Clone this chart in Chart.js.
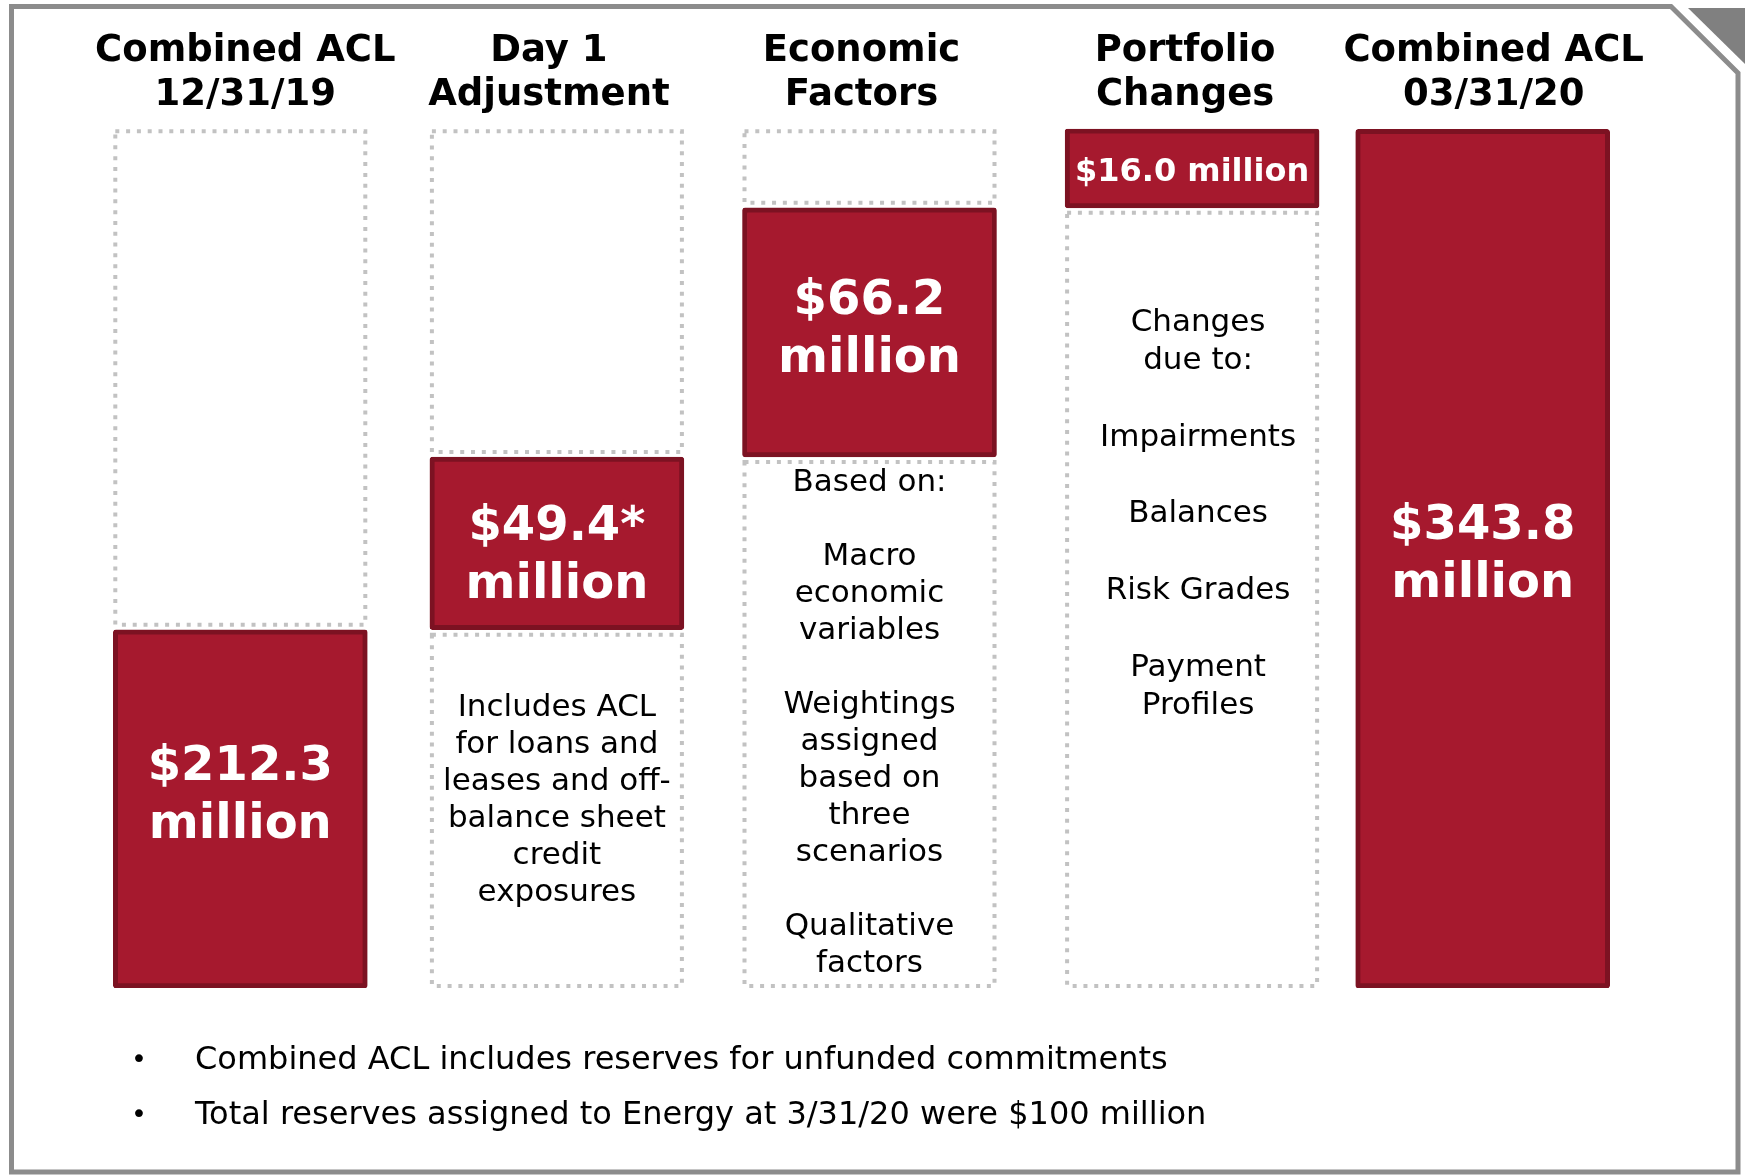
<!DOCTYPE html>
<html>
<head>
<meta charset="utf-8">
<title>Combined ACL walk</title>
<script src="https://cdn.jsdelivr.net/npm/chart.js@4.4.1/dist/chart.umd.min.js"></script>
<style>
html, body { margin: 0; padding: 0; background: #fff; }
#wrap { position: relative; width: 1745px; height: 1175px; overflow: hidden; }
#aclChart { position: absolute; left: 0; top: 0; }
.notes {
    position: absolute; left: 0; top: 1031px; margin: 0; padding: 0; list-style: none;
    font-family: "DejaVu Sans", Verdana, sans-serif; font-size: 32px; color: #000;
}
.notes li { position: relative; padding-left: 195px; height: 55px; line-height: 55px; white-space: nowrap; }
.notes li::before { content: "\2022"; position: absolute; left: 131px; font-size: 27px; }
</style>
</head>
<body>
<div id="wrap">
    <canvas id="aclChart" width="1745" height="1175"></canvas>
    <ul class="notes" id="notes"></ul>
</div>

<script>

/* =========================
   DATA  ($ millions)
========================= */

const categories = [
    ["Combined ACL", "12/31/19"],
    ["Day 1", "Adjustment"],
    ["Economic", "Factors"],
    ["Portfolio", "Changes"],
    ["Combined ACL", "03/31/20"]
];

const stepAmounts = [212.3, 49.4, 66.2, 16.0];
const endingTotal = 343.8;
const amountMarks = ["", "*", "", "", ""];

const columnNotes = [
    [],
    ["Includes ACL", "for loans and", "leases and off-", "balance sheet", "credit", "exposures"],
    ["Based on:", "", "Macro", "economic", "variables", "", "Weightings", "assigned",
     "based on", "three", "scenarios", "", "Qualitative", "factors"],
    ["Changes", "due to:", "", "Impairments", "", "Balances", "", "Risk Grades", "",
     "Payment", "Profiles"],
    []
];

const footnotes = [
    "Combined ACL includes reserves for unfunded commitments",
    "Total reserves assigned to Energy at 3/31/20 were $100 million"
];

/* =========================
   WATERFALL SERIES
========================= */

const amounts = stepAmounts.concat([endingTotal]);

const levels = [0];
stepAmounts.forEach(v => {
    levels.push(+(levels[levels.length - 1] + v).toFixed(1));
});

const redBars = stepAmounts
    .map((v, i) => [levels[i], levels[i + 1]])
    .concat([[0, endingTotal]]);

const upperEmpty = stepAmounts
    .map((v, i) => [levels[i + 1], endingTotal])
    .concat([null]);

const lowerEmpty = stepAmounts
    .map((v, i) => i === 0 ? null : [0, levels[i]])
    .concat([null]);

/* =========================
   LAYOUT / STYLE
========================= */

// the slide is not drawn to scale: where each running level sits (0 = bottom, 1 = top)
const levelFractions = [0, 0.417, 0.618, 0.908, 1];

// columns on the slide are not evenly spaced (px nudge from the even grid)
const columnNudge = [0, 6, 8, 20, 0];
const titleNudge = [5, -8, -8, -7, 11];

const labelNudge = [-12, 13, -2, 4, -3];

const noteGap = [0, 78, 26, 115, 0];
const noteNudge = [0, 0, 0, 6, 0];
const noteLineHeight = [37, 37, 37, 38.3, 37];

const RED = "#a6192e";
const RED_EDGE = "#7c1222";
const FONT = "'DejaVu Sans', Verdana, sans-serif";

/* =========================
   NOT-TO-SCALE AXES
========================= */

const scaleStops = levels.map((v, i) => ({ value: v, at: levelFractions[i] }));

function toDecimal(value){

    for (let i = 1; i < scaleStops.length; i++) {
        const a = scaleStops[i - 1], b = scaleStops[i];
        if (value <= b.value || i === scaleStops.length - 1) {
            return a.at + (value - a.value) / (b.value - a.value) * (b.at - a.at);
        }
    }
    return 0;

}

function fromDecimal(dec){

    for (let i = 1; i < scaleStops.length; i++) {
        const a = scaleStops[i - 1], b = scaleStops[i];
        if (dec <= b.at || i === scaleStops.length - 1) {
            return a.value + (dec - a.at) / (b.at - a.at) * (b.value - a.value);
        }
    }
    return 0;

}

class SlideScale extends Chart.LinearScale {

    getPixelForValue(value){
        if (value === null || isNaN(value)) return NaN;
        return this.getPixelForDecimal(toDecimal(value));
    }

    getValueForPixel(pixel){
        return fromDecimal(this.getDecimalForPixel(pixel));
    }

}

SlideScale.id = "slide";
SlideScale.defaults = Chart.LinearScale.defaults;

class SlideCategory extends Chart.CategoryScale {

    getPixelForValue(value, index){
        const v = typeof value === "number" ? value : this.parse(value);
        const px = super.getPixelForValue(v, index);
        return px + (columnNudge[Math.round(v)] || 0);
    }

    getPixelForTick(index){
        return super.getPixelForTick(index) + (titleNudge[index] || 0);
    }

}

SlideCategory.id = "slideCategory";
SlideCategory.defaults = Chart.CategoryScale.defaults;

Chart.register(SlideScale, SlideCategory);

/* =========================
   PLUGINS
========================= */

const slideFrame = {

    id: "slideFrame",

    beforeDraw(chart){

        const ctx = chart.ctx;
        const w = chart.width, h = chart.height;

        ctx.save();

        ctx.strokeStyle = "#8c8c8c";
        ctx.lineWidth = 5;
        ctx.beginPath();
        ctx.moveTo(w - 74, 6.5);
        ctx.lineTo(11.5, 6.5);
        ctx.lineTo(11.5, h - 3);
        ctx.lineTo(w - 7, h - 3);
        ctx.lineTo(w - 7, 73);
        ctx.closePath();
        ctx.stroke();

        ctx.fillStyle = "#808080";
        ctx.beginPath();
        ctx.moveTo(w - 57, 8);
        ctx.lineTo(w, 8);
        ctx.lineTo(w, 64);
        ctx.closePath();
        ctx.fill();

        ctx.restore();

    }

};

const dottedBoxes = {

    id: "dottedBoxes",

    beforeDatasetsDraw(chart){

        const ctx = chart.ctx;

        ctx.save();
        ctx.strokeStyle = "#c2c2c2";
        ctx.lineWidth = 4;
        ctx.setLineDash([4, 6.8]);

        chart.data.datasets.forEach((ds, di) => {

            if (!ds.dotted) return;

            chart.getDatasetMeta(di).data.forEach((el, i) => {

                if (!ds.data[i]) return;

                const p = el.getProps(["x", "y", "base", "width"], true);
                let top = Math.min(p.y, p.base);
                let bottom = Math.max(p.y, p.base);

                if (bottom - top < 8) return;

                // leave a small gap on the side that touches the red bar
                if (ds.dotted === "upper") {
                    top += 2; bottom -= 5;
                } else {
                    top += 5; bottom -= 2;
                }

                ctx.strokeRect(p.x - p.width / 2 + 2, top, p.width - 4, bottom - top);

            });

        });

        ctx.restore();

    }

};

const barText = {

    id: "barText",

    afterDatasetsDraw(chart){

        const ctx = chart.ctx;

        chart.data.datasets.forEach((ds, di) => {

            if (ds.dotted) return;

            chart.getDatasetMeta(di).data.forEach((el, i) => {

                const p = el.getProps(["x", "y", "base"], true);
                const top = Math.min(p.y, p.base);
                const bottom = Math.max(p.y, p.base);
                const mid = (top + bottom) / 2 + labelNudge[i];
                const money = "$" + amounts[i].toFixed(1) + amountMarks[i];

                ctx.save();
                ctx.textAlign = "center";
                ctx.textBaseline = "middle";

                ctx.fillStyle = "#fff";
                if (bottom - top < 120) {
                    ctx.font = "bold 32px " + FONT;
                    ctx.fillText(money + " million", p.x, mid);
                } else {
                    ctx.font = "bold 48px " + FONT;
                    ctx.fillText(money, p.x, mid - 29);
                    ctx.fillText("million", p.x, mid + 29);
                }

                ctx.fillStyle = "#000";
                ctx.font = "31px " + FONT;
                columnNotes[i].forEach((line, li) => {
                    ctx.fillText(line, p.x + noteNudge[i], bottom + noteGap[i] + li * noteLineHeight[i]);
                });

                ctx.restore();

            });

        });

    }

};

/* =========================
   CHART
========================= */

const notesEl = document.getElementById("notes");
footnotes.forEach(t => {
    const li = document.createElement("li");
    li.textContent = t;
    notesEl.appendChild(li);
});

new Chart(document.getElementById("aclChart"), {

    type: "bar",

    data: {

        labels: categories,

        datasets: [
            {
                label: "Headroom",
                data: upperEmpty,
                dotted: "upper",
                backgroundColor: "rgba(0,0,0,0)",
                borderWidth: 0,
                grouped: false,
                order: 2
            },
            {
                label: "Prior level",
                data: lowerEmpty,
                dotted: "lower",
                backgroundColor: "rgba(0,0,0,0)",
                borderWidth: 0,
                grouped: false,
                order: 3
            },
            {
                label: "ACL ($ millions)",
                data: redBars,
                backgroundColor: RED,
                borderColor: RED_EDGE,
                borderWidth: 5,
                borderRadius: 3,
                borderSkipped: false,
                grouped: false,
                order: 1
            }
        ]

    },

    options: {

        responsive: false,
        animation: false,

        datasets: {
            bar: {
                barThickness: 254
            }
        },

        layout: {
            padding: { left: 85, right: 107, top: 18, bottom: 187 }
        },

        plugins: {
            legend: { display: false },
            tooltip: { enabled: false }
        },

        scales: {

            x: {
                type: "slideCategory",
                position: "top",
                grid: { display: false, drawTicks: false },
                border: { display: false },
                ticks: {
                    color: "#000",
                    padding: 11,
                    autoSkip: false,
                    maxRotation: 0,
                    font: { family: FONT, size: 37, weight: "bold", lineHeight: 1.2 }
                }
            },

            y: {
                type: "slide",
                display: false,
                min: 0,
                max: endingTotal
            }

        }

    },

    plugins: [slideFrame, dottedBoxes, barText]

});

</script>
</body>
</html>
